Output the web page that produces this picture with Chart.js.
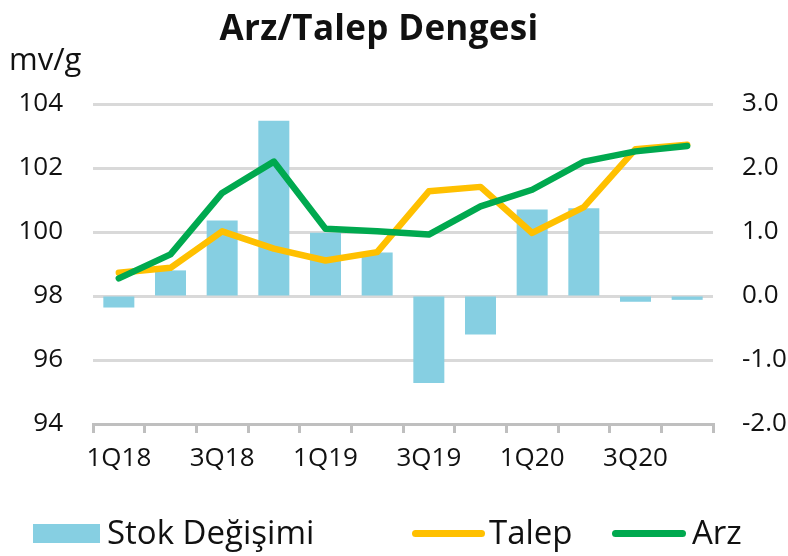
<!DOCTYPE html>
<html>
<head>
<meta charset="utf-8">
<script src="https://cdn.jsdelivr.net/npm/chart.js@4.4.1/dist/chart.umd.min.js"></script>
<style>
  html, body { margin: 0; padding: 0; background: #fff; }
  #wrap { position: relative; width: 788px; height: 556px; font-family: "Open Sans", sans-serif; color: #111; }
  #wrap canvas { position: absolute; left: 0; top: 0; }
  .txt { position: absolute; white-space: nowrap; }
  #title { left: 0; width: 758px; top: 3px; text-align: center; font-size: 35px; font-weight: bold; letter-spacing: 0.3px; }
  #unit { left: 9px; top: 37px; font-size: 31px; }
  .sw { position: absolute; }
  .lg { font-size: 33px; top: 509px; }
</style>
</head>
<body>
<div id="wrap">
  <canvas id="arzTalep" width="788" height="556"></canvas>
  <div class="txt" id="title">Arz/Talep Dengesi</div>
  <div class="txt" id="unit">mv/g</div>
  <!-- 범례 -->
  <div class="sw" style="left:33px;top:524px;width:67px;height:19px;background:#86CFE2"></div>
  <div class="txt lg" style="left:107px">Stok Değişimi</div>
  <div class="sw" style="left:412px;top:530px;width:73px;height:7px;border-radius:4px;background:#FFC000"></div>
  <div class="txt lg" style="left:489px">Talep</div>
  <div class="sw" style="left:612px;top:530px;width:74px;height:7px;border-radius:4px;background:#00A94F"></div>
  <div class="txt lg" style="left:692px">Arz</div>
</div>
<script>
// 분기 라벨
var quarters = ['1Q18', '2Q18', '3Q18', '4Q18', '1Q19', '2Q19', '3Q19', '4Q19', '1Q20', '2Q20', '3Q20', '4Q20'];

// 재고 변화 (우측 축)
var stokDegisimi = [-0.18, 0.40, 1.18, 2.74, 0.99, 0.68, -1.36, -0.60, 1.35, 1.37, -0.09, -0.06];

// 수요 / 공급 (좌측 축, mv/g)
var talep = [98.73, 98.88, 100.02, 99.48, 99.11, 99.37, 101.27, 101.41, 99.97, 100.78, 102.59, 102.73];
var arz = [98.55, 99.30, 101.22, 102.20, 100.10, 100.02, 99.92, 100.80, 101.32, 102.20, 102.52, 102.69];

// 축 눈금
var leftTicks = { min: 94, max: 104, step: 2 };
var rightTicks = { min: -2, max: 3, step: 1 };

var tickFont = { family: 'Open Sans', size: 26 };

var ctx = document.getElementById('arzTalep').getContext('2d');

var data = {
    labels: quarters,
    datasets: [
        {
            type: 'line', label: 'Arz', data: arz, yAxisID: 'y',
            borderColor: '#00A94F', borderWidth: 6.5, pointRadius: 0,
            tension: 0, borderCapStyle: 'round', borderJoinStyle: 'round', order: 0
        },
        {
            type: 'line', label: 'Talep', data: talep, yAxisID: 'y',
            borderColor: '#FFC000', borderWidth: 6.5, pointRadius: 0,
            tension: 0, borderCapStyle: 'round', borderJoinStyle: 'round', order: 1
        },
        {
            type: 'bar', label: 'Stok Değişimi', data: stokDegisimi, yAxisID: 'y1',
            backgroundColor: '#86CFE2', barPercentage: 0.6, categoryPercentage: 1, order: 2
        }
    ]
};

var options = {
    responsive: false,
    animation: false,
    layout: { padding: { top: 104, bottom: 82, left: 0, right: 0 } },
    plugins: { legend: { display: false }, title: { display: false }, tooltip: { enabled: false } },
    scales: {
        x: {
            offset: true,
            grid: { offset: true, drawOnChartArea: false, drawTicks: true, tickLength: 9, color: '#BFBFBF', lineWidth: 3 },
            border: { display: true, color: '#BFBFBF', width: 3 },
            ticks: {
                autoSkip: false, maxRotation: 0, padding: 10, color: '#111', font: tickFont,
                callback: function (v, i) { return i % 2 === 0 ? quarters[i] : ''; }
            },
            afterFit: function (s) { s.height = 50; }
        },
        y: {
            position: 'left',
            min: leftTicks.min, max: leftTicks.max,
            grid: { color: '#D9D9D9', lineWidth: 3, drawTicks: false },
            border: { display: false },
            ticks: { stepSize: leftTicks.step, padding: 30, color: '#111', font: tickFont },
            afterFit: function (s) { s.width = 93; }
        },
        y1: {
            position: 'right',
            min: rightTicks.min, max: rightTicks.max,
            grid: { drawOnChartArea: false, drawTicks: false },
            border: { display: false },
            ticks: {
                stepSize: rightTicks.step, padding: 29, color: '#111', font: tickFont,
                callback: function (v) { return v.toFixed(1); }
            },
            afterFit: function (s) { s.width = 75; }
        }
    }
};

new Chart(ctx, { type: 'bar', data: data, options: options });
</script>
</body>
</html>
